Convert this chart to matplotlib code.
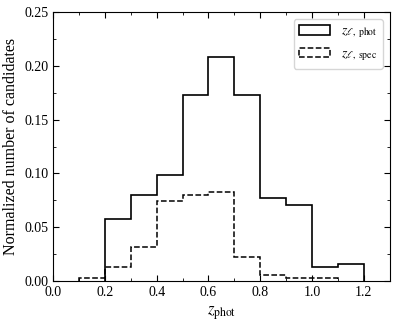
import numpy as np
import matplotlib
matplotlib.use("Agg")
import matplotlib.pyplot as plt
from matplotlib.patches import Patch
from matplotlib.ticker import MultipleLocator

# Histogram bins and normalized fractions
edges_phot = [0.2, 0.3, 0.4, 0.5, 0.6, 0.7, 0.8, 0.9, 1.0, 1.1, 1.2]
frac_phot = [0.058, 0.080, 0.099, 0.173, 0.208, 0.173, 0.077, 0.071, 0.013, 0.016]
edges_spec = [0.1, 0.2, 0.3, 0.4, 0.5, 0.6, 0.7, 0.8, 0.9, 1.0, 1.1]
frac_spec = [0.003, 0.013, 0.032, 0.074, 0.080, 0.083, 0.022, 0.006, 0.003, 0.003]

plt.rcParams["font.family"] = ["Liberation Serif", "DejaVu Serif"]
plt.rcParams["mathtext.fontset"] = "stix"

fig = plt.figure(figsize=(3.99, 3.26), dpi=100)
ax = fig.add_axes([0.133, 0.138, 0.844, 0.825])

ax.stairs(frac_phot, edges_phot, color="black", lw=1.2, ls="-")
ax.stairs(frac_spec, edges_spec, color="black", lw=1.1, ls="--")

ax.set_xlim(0.0, 1.3)
ax.set_ylim(0.0, 0.25)
ax.xaxis.set_major_locator(MultipleLocator(0.2))
ax.xaxis.set_minor_locator(MultipleLocator(0.1))
ax.yaxis.set_major_locator(MultipleLocator(0.05))
ax.yaxis.set_minor_locator(MultipleLocator(0.025))
ax.tick_params(which="both", direction="in", top=True, right=True, labelsize=10)
ax.tick_params(which="major", length=4)
ax.tick_params(which="minor", length=2)

ax.set_xlabel(r"$z_{\mathrm{phot}}$", fontsize=12)
ax.set_ylabel("Normalized number of candidates", fontsize=11.5)

handles = [Patch(facecolor="none", edgecolor="black", lw=1.2, ls="-",
                 label=r"$z_{\ell,\ \mathrm{phot}}$"),
           Patch(facecolor="none", edgecolor="black", lw=1.1, ls="--",
                 label=r"$z_{\ell,\ \mathrm{spec}}$")]
ax.legend(handles=handles, loc="upper right", fontsize=10, handlelength=2.2)

fig.savefig("out.png", dpi=100)
